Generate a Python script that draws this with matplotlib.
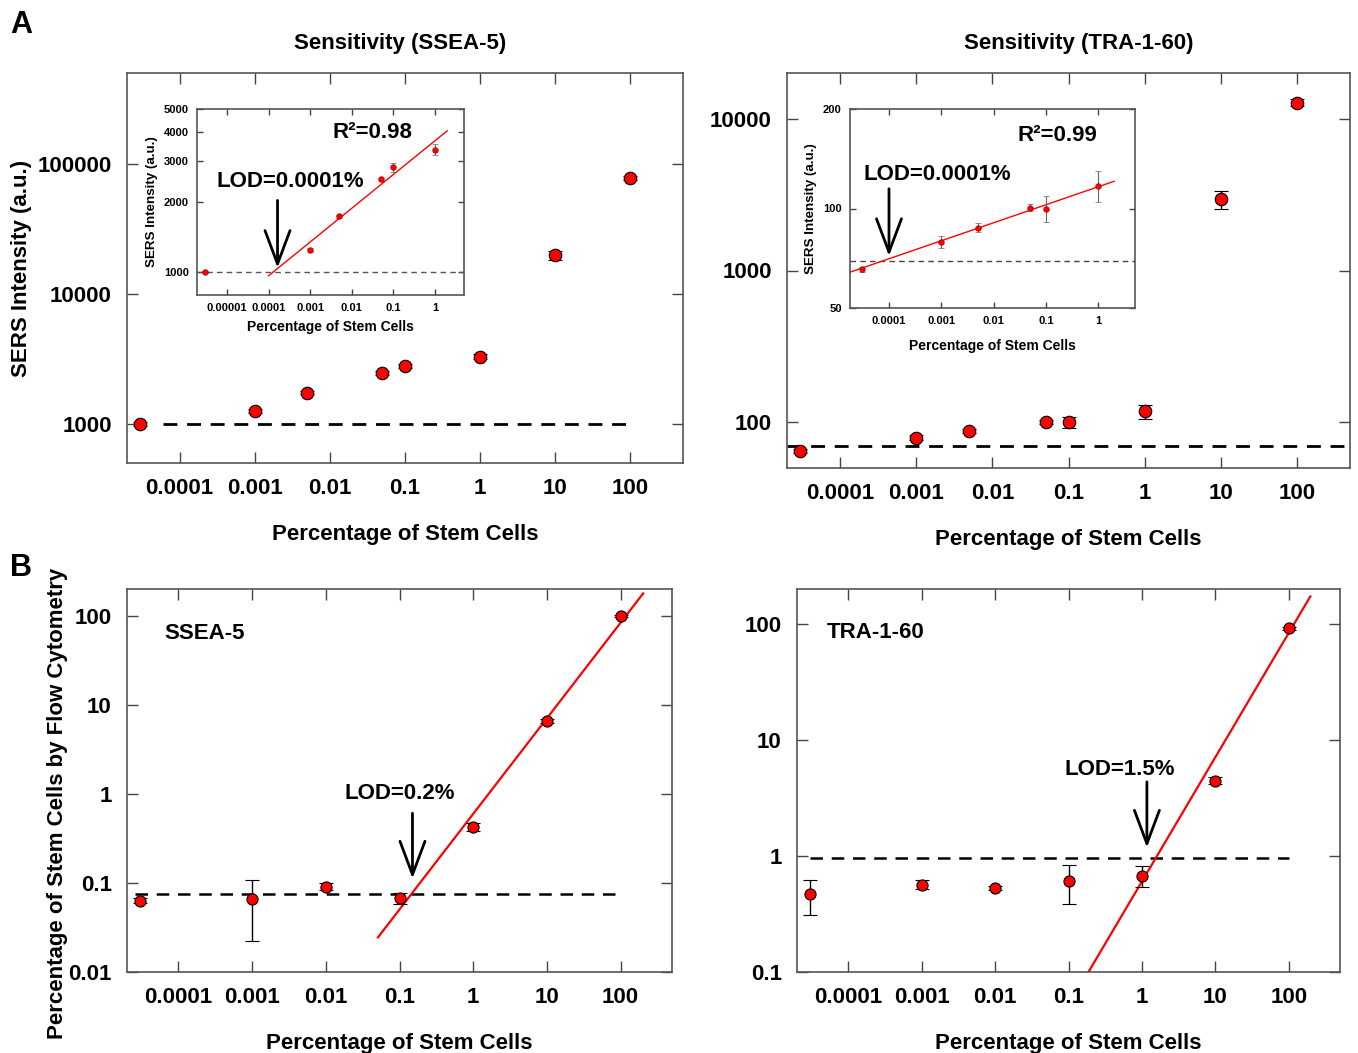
import matplotlib.pyplot as plt
from matplotlib.ticker import NullLocator
import numpy as np

plt.rcParams['font.family'] = ['Liberation Sans', 'DejaVu Sans']
plt.rcParams['font.weight'] = 'bold'
plt.rcParams['axes.labelweight'] = 'bold'
plt.rcParams['axes.titleweight'] = 'bold'

# ---- data ----
pct = [3e-5, 0.001, 0.005, 0.05, 0.1, 1, 10, 100]
ssea5_sers = [1000, 1250, 1735, 2465, 2780, 3290, 19750, 78000]
ssea5_sers_err = [30, 40, 50, 70, 90, 130, 1500, 3000]
tra_sers = [65, 79, 87.5, 100, 100, 118, 2940, 12760]
tra_sers_err = [2, 3, 3, 3, 8.7, 13, 400, 700]
ssea5_lod_level = 1000
tra_lod_level = 69.5

pct_inset_ssea5 = [3e-6, 0.001, 0.005, 0.05, 0.1, 1]
ssea5_inset = [1000, 1246, 1739, 2499, 2814, 3348]
ssea5_inset_err = [10, 20, 25, 40, 135, 180]
ssea5_fit = (3656, 0.1444)        # y = a * x**b
ssea5_fit_range = (1e-4, 1.97)

pct_inset_tra = [3e-5, 0.001, 0.005, 0.05, 0.1, 1]
tra_inset = [65.5, 79.1, 87.4, 100.5, 100, 117.3]
tra_inset_err = [1.2, 3.4, 2.7, 2.5, 9.2, 12.5]
tra_fit = (116.4, 0.0545)
tra_fit_range = (1.8e-5, 2.0)

ssea5_flow = [0.063, 0.066, 0.091, 0.068, 0.424, 6.56, 100]
ssea5_flow_err_lo = [0.004, 0.0436, 0.008, 0.010, 0.045, 0.3, 3]
ssea5_flow_err_hi = [0.004, 0.043, 0.008, 0.010, 0.045, 0.3, 3]
ssea5_flow_lod = 0.076
ssea5_flow_fit = (0.596, 1.073)
ssea5_flow_fit_range = (0.051, 203)

tra_flow = [0.474, 0.567, 0.526, 0.609, 0.678, 4.46, 91.7]
tra_flow_err_lo = [0.162, 0.05, 0.02, 0.22, 0.143, 0.3, 3]
tra_flow_err_hi = [0.152, 0.05, 0.02, 0.234, 0.137, 0.3, 3]
tra_flow_lod = 0.96
tra_flow_fit = (0.602, 1.071)
tra_flow_fit_range = (0.187, 197)

pct_flow = [3e-5, 0.001, 0.01, 0.1, 1, 10, 100]

xticks = [1e-4, 1e-3, 1e-2, 1e-1, 1, 10, 100]
xticklabels = ['0.0001', '0.001', '0.01', '0.1', '1', '10', '100']

FRAME = '#555555'


def style(ax, fs, ticklen, pad):
    ax.set_xscale('log')
    ax.set_yscale('log')
    ax.xaxis.set_minor_locator(NullLocator())
    ax.yaxis.set_minor_locator(NullLocator())
    ax.tick_params(which='both', direction='in', top=True, right=True,
                   length=ticklen, width=1, color='#444444',
                   labelsize=fs, pad=pad)
    for s in ax.spines.values():
        s.set_color(FRAME)
        s.set_linewidth(1.2)


def fitline(ax, fit, xr, lw):
    xs = np.logspace(np.log10(xr[0]), np.log10(xr[1]), 50)
    ax.plot(xs, fit[0] * xs ** fit[1], color='red', lw=lw, zorder=2)


def arrow(ax, x, ytop, ytip, lw=2, hl=1.2, hw=0.45, ms=20):
    ax.annotate('', xy=(x, ytip), xytext=(x, ytop),
                arrowprops=dict(arrowstyle='->, head_length=%s, head_width=%s' % (hl, hw),
                                lw=lw, color='black', mutation_scale=ms,
                                shrinkA=0, shrinkB=0))


W, H = 1358, 1053
fig = plt.figure(figsize=(W / 100, H / 100), dpi=100)


def box(x0, y0, x1, y1):
    return [x0 / W, 1 - y1 / H, (x1 - x0) / W, (y1 - y0) / H]


mkw = dict(fmt='o', ms=9, mfc='red', mec='black', mew=0.8, ecolor='black',
           elinewidth=1, capsize=5, capthick=1, zorder=3)

# ---- A left ----
ax1 = fig.add_axes(box(127, 73, 683, 463))
style(ax1, 16, 8, 11)
ax1.errorbar(pct, ssea5_sers, yerr=ssea5_sers_err, **mkw)
ax1.plot([6e-5, 100], [ssea5_lod_level] * 2, color='black', lw=2, dashes=(5, 3.5))
ax1.set_xlim(2e-5, 500)
ax1.set_ylim(500, 5e5)
ax1.set_xticks(xticks)
ax1.set_xticklabels(xticklabels)
ax1.set_yticks([1000, 10000, 100000])
ax1.set_yticklabels(['1000', '10000', '100000'])
ax1.set_xlabel('Percentage of Stem Cells', fontsize=16, labelpad=18)
ax1.set_ylabel('SERS Intensity (a.u.)', fontsize=16, labelpad=4)
ax1.set_title('Sensitivity (SSEA-5)', fontsize=16, pad=17, x=0.491)

# ---- A left inset ----
ai1 = fig.add_axes(box(197, 109, 464, 295))
style(ai1, 8, 4, 6)
ai1.errorbar(pct_inset_ssea5, ssea5_inset, yerr=ssea5_inset_err, fmt='o', ms=4,
             mfc='red', mec='#aa0000', mew=0.5, ecolor='#666666', elinewidth=0.8,
             capsize=2.5, capthick=0.8, zorder=3)
ai1.axhline(ssea5_lod_level, color='#555555', lw=1, dashes=(4, 3))
fitline(ai1, ssea5_fit, ssea5_fit_range, 1)
ai1.set_xlim(1.9e-6, 5)
ai1.set_ylim(800, 5000)
ai1.set_xticks([1e-5] + xticks[:5])
ai1.set_xticklabels(['0.00001'] + xticklabels[:5])
ai1.set_yticks([1000, 2000, 3000, 4000, 5000])
ai1.set_yticklabels(['1000', '2000', '3000', '4000', '5000'])
ai1.set_xlabel('Percentage of Stem Cells', fontsize=10, labelpad=5)
ai1.set_ylabel('SERS Intensity (a.u.)', fontsize=9.6, labelpad=4)
arrow(ai1, 1.64e-4, 2031, 1045)
ai1.text(3.3e-4, 2443, 'LOD=0.0001%', ha='center', va='center', fontsize=16)
ai1.text(0.0317, 3962, 'R²=0.98', ha='center', va='center', fontsize=16)

# ---- A right ----
ax2 = fig.add_axes(box(787, 73, 1350, 468))
style(ax2, 16, 8, 11)
ax2.errorbar(pct, tra_sers, yerr=tra_sers_err, **mkw)
ax2.axhline(tra_lod_level, color='black', lw=2, dashes=(5, 3.5))
ax2.set_xlim(2e-5, 500)
ax2.set_ylim(50, 20000)
ax2.set_xticks(xticks)
ax2.set_xticklabels(xticklabels)
ax2.set_yticks([100, 1000, 10000])
ax2.set_yticklabels(['100', '1000', '10000'])
ax2.set_xlabel('Percentage of Stem Cells', fontsize=16, labelpad=18)
ax2.set_title('Sensitivity (TRA-1-60)', fontsize=16, pad=17, x=0.519)

# ---- A right inset ----
ai2 = fig.add_axes(box(850, 109, 1135, 308))
style(ai2, 8, 4, 6)
ai2.errorbar(pct_inset_tra, tra_inset, yerr=tra_inset_err, fmt='o', ms=4,
             mfc='red', mec='#aa0000', mew=0.5, ecolor='#666666', elinewidth=0.8,
             capsize=2.5, capthick=0.8, zorder=3)
ai2.axhline(tra_lod_level, color='#444444', lw=1, dashes=(4, 3))
fitline(ai2, tra_fit, tra_fit_range, 1)
ai2.set_xlim(1.8e-5, 5)
ai2.set_ylim(50, 200)
ai2.set_xticks(xticks[:5])
ai2.set_xticklabels(xticklabels[:5])
ai2.set_yticks([50, 100, 200])
ai2.set_yticklabels(['50', '100', '200'])
ai2.set_xlabel('Percentage of Stem Cells', fontsize=10, labelpad=9)
ai2.set_ylabel('SERS Intensity (a.u.)', fontsize=9.6, labelpad=4)
arrow(ai2, 1e-4, 114.7, 71.8)
ai2.text(8.5e-4, 126.7, 'LOD=0.0001%', ha='center', va='center', fontsize=16)
ai2.text(0.166, 166, 'R²=0.99', ha='center', va='center', fontsize=16)

# ---- B left ----
bkw = dict(mkw, ms=8)
bx1 = fig.add_axes(box(127, 589, 672, 972))
style(bx1, 16, 8, 11)
bx1.errorbar(pct_flow, ssea5_flow, yerr=[ssea5_flow_err_lo, ssea5_flow_err_hi], **bkw)
bx1.plot([2.6e-5, 100], [ssea5_flow_lod] * 2, color='black', lw=1.8, dashes=(5, 3.5))
fitline(bx1, ssea5_flow_fit, ssea5_flow_fit_range, 1.6)
bx1.set_xlim(2e-5, 500)
bx1.set_ylim(0.01, 200)
bx1.set_xticks(xticks)
bx1.set_xticklabels(xticklabels)
bx1.set_yticks([0.01, 0.1, 1, 10, 100])
bx1.set_yticklabels(['0.01', '0.1', '1', '10', '100'])
bx1.set_xlabel('Percentage of Stem Cells', fontsize=16, labelpad=18)
bx1.text(0.068, 0.885, 'SSEA-5', transform=bx1.transAxes, ha='left', va='center', fontsize=16)
arrow(bx1, 0.15, 0.607, 0.112)
bx1.text(0.1, 1.0, 'LOD=0.2%', ha='center', va='center', fontsize=16)

# ---- B right ----
bx2 = fig.add_axes(box(797, 589, 1340, 972))
style(bx2, 16, 8, 11)
bx2.errorbar(pct_flow, tra_flow, yerr=[tra_flow_err_lo, tra_flow_err_hi], **bkw)
bx2.plot([3e-5, 100], [tra_flow_lod] * 2, color='black', lw=1.8, dashes=(5, 3.5))
fitline(bx2, tra_flow_fit, tra_flow_fit_range, 1.6)
bx2.set_xlim(2e-5, 500)
bx2.set_ylim(0.1, 200)
bx2.set_xticks(xticks)
bx2.set_xticklabels(xticklabels)
bx2.set_yticks([0.1, 1, 10, 100])
bx2.set_yticklabels(['0.1', '1', '10', '100'])
bx2.set_xlabel('Percentage of Stem Cells', fontsize=16, labelpad=18)
bx2.text(0.055, 0.887, 'TRA-1-60', transform=bx2.transAxes, ha='left', va='center', fontsize=16)
arrow(bx2, 1.17, 4.35, 1.18)
bx2.text(0.5, 5.6, 'LOD=1.5%', ha='center', va='center', fontsize=16)

fig.text(58 / W, 1 - 803 / H, 'Percentage of Stem Cells by Flow Cytometry',
         rotation=90, ha='center', va='center', fontsize=16)
fig.text(10 / W, 1 - 10 / H, 'A', ha='left', va='top', fontsize=22)
fig.text(10 / W, 1 - 553 / H, 'B', ha='left', va='top', fontsize=22)

fig.savefig('out.png', dpi=100)
